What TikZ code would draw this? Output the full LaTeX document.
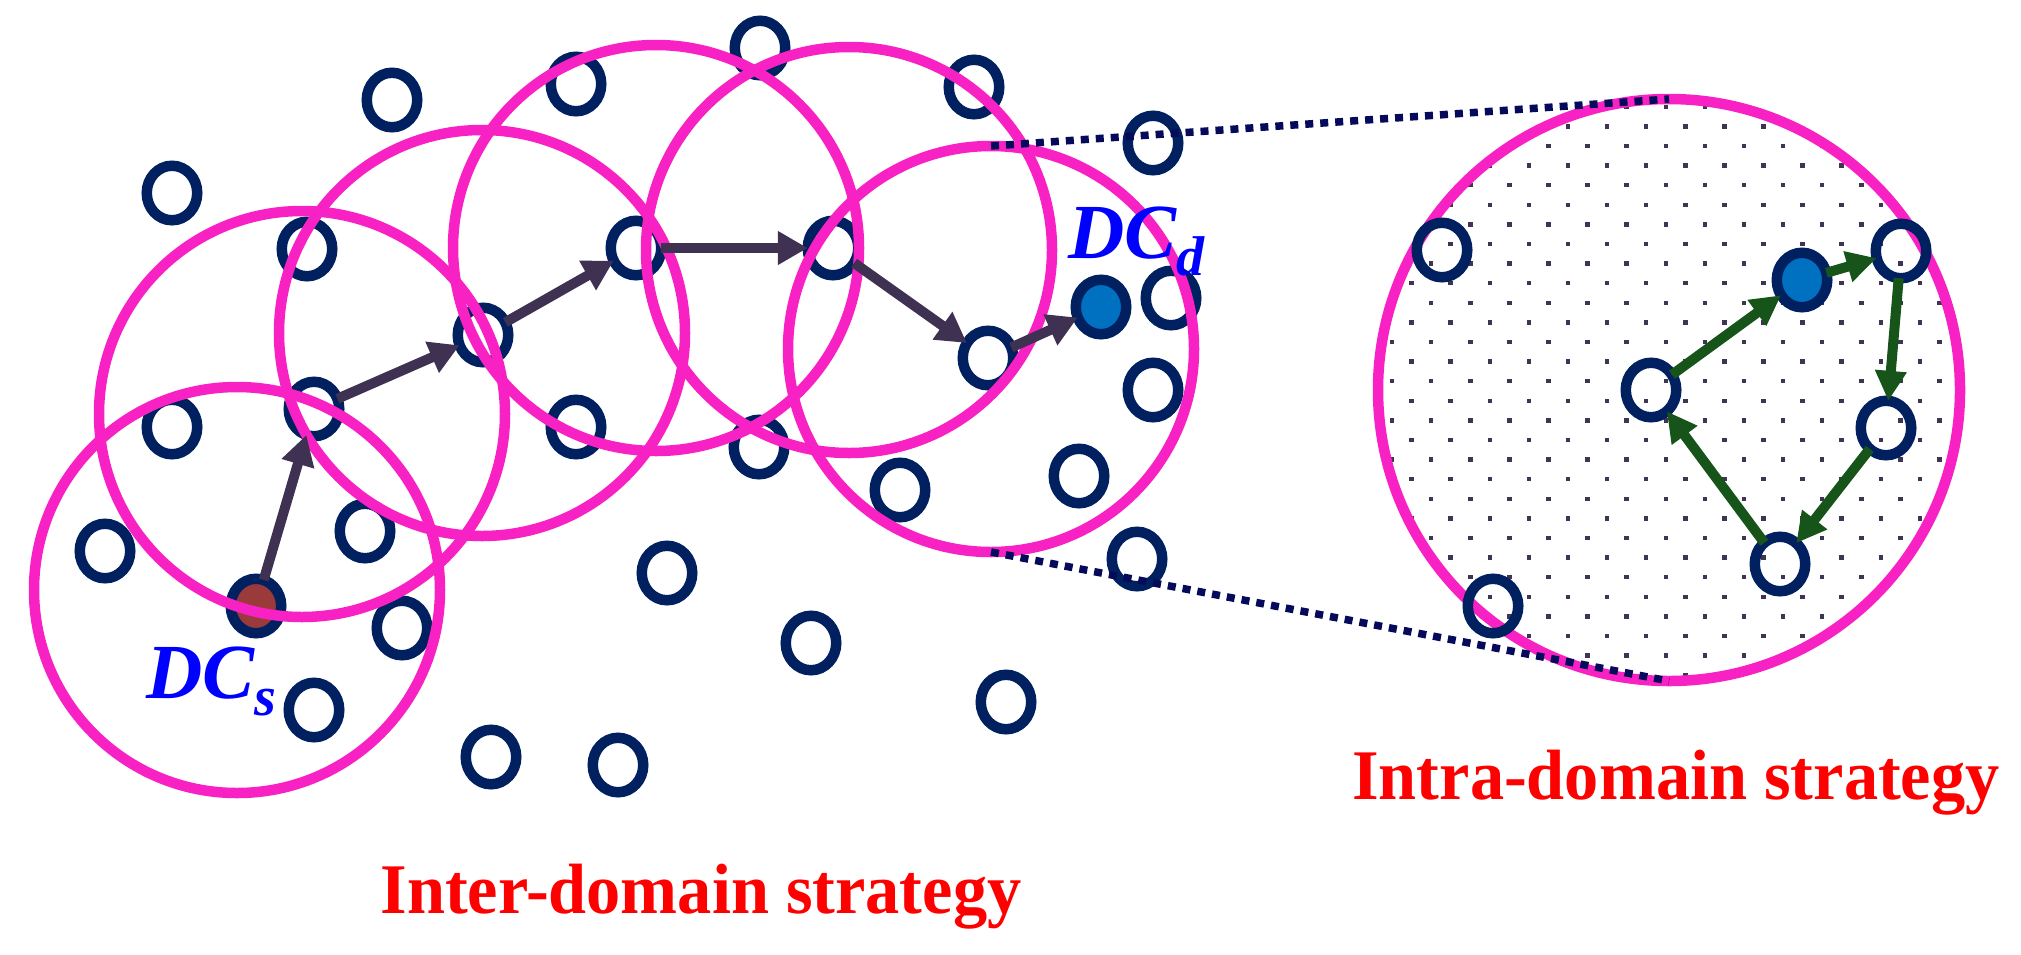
\documentclass[tikz,border=0pt]{standalone}
\usepackage{fontspec}
\usepackage{graphicx}
\setmainfont{Liberation Serif}
\usetikzlibrary{arrows.meta,shapes.geometric}
\definecolor{navy}{RGB}{0,32,96}
\definecolor{pinkc}{RGB}{248,34,196}
\definecolor{arrowc}{RGB}{63,49,81}
\definecolor{greenc}{RGB}{22,84,26}
\definecolor{linec}{RGB}{5,10,90}
\definecolor{dotc}{RGB}{64,52,84}
\definecolor{dcdfill}{RGB}{0,112,192}
\definecolor{dcsfill}{RGB}{155,58,58}
\begin{document}
\begin{tikzpicture}[x=0.5pt,y=-0.5pt,
  smallnode/.style={ellipse,draw=navy,line width=5.25pt,minimum width=25.25pt,minimum height=27.25pt,inner sep=0pt,outer sep=0pt},
  pinkring/.style={circle,draw=pinkc,line width=5.25pt,minimum size=203pt,inner sep=0pt,outer sep=0pt},
  bigring/.style={circle,draw=pinkc,line width=5.25pt,minimum size=291pt,inner sep=0pt,outer sep=0pt},
  interarrow/.style={draw=arrowc,line width=5pt,-{Triangle[length=15pt,width=16pt]}},
  intraarrow/.style={draw=greenc,line width=5pt,-{Triangle[length=15pt,width=15pt]}},
  zoomline/.style={draw=linec,line width=3.75pt,dash pattern=on 4pt off 3.5pt},
  titletext/.style={text=red,font=\fontsize{35.6}{36}\selectfont\bfseries,inner sep=0pt},
  dclabel/.style={text=blue,font=\fontsize{39}{39}\selectfont\bfseries\itshape,inner sep=0pt}]
\useasboundingbox (0,0) rectangle (2021,954);

% ---------- intra-domain dotted background ----------
\begin{scope}
  \clip (1669,390) circle[radius=287];
  \foreach \k in {-1,...,29}{
    \foreach \i in {-6,...,11}{
      \pgfmathsetmacro\dx{1568+39.1*\i-19.55*mod(\k,2)}
      \pgfmathsetmacro\dy{126.4+19.6*\k}
      \fill[dotc] (\dx-2.25,\dy-2.25) rectangle ++(4.5,4.5);
    }
  }
\end{scope}

% ---------- inter-domain small nodes ----------
\node[smallnode] (n1) at (172,193) {};
\node[smallnode] (n2) at (392,100) {};
\node[smallnode] (n3) at (576,84) {};
\node[smallnode] (n4) at (307,249) {};
\node[smallnode] (n5) at (483,335) {};
\node[smallnode] (n6) at (636,248) {};
\node[smallnode] (n7) at (172,427) {};
\node[smallnode] (n8) at (314,409) {};
\node[smallnode] (n9) at (576,427) {};
\node[smallnode] (n10) at (760,48) {};
\node[smallnode] (n11) at (974,87) {};
\node[smallnode] (n12) at (1153,143) {};
\node[smallnode] (n13) at (833,248) {};
\node[smallnode] (n14) at (988,358) {};
\node[smallnode] (n15) at (1171,298) {};
\node[smallnode] (n16) at (1153,390) {};
\node[smallnode] (n17) at (759,447) {};
\node[smallnode] (n18) at (1079,476) {};
\node[smallnode] (n19) at (900,490) {};
\node[smallnode] (n20) at (105,551) {};
\node[smallnode] (n21) at (365,531) {};
\node[smallnode] (n22) at (402,628) {};
\node[smallnode] (n23) at (314,710) {};
\node[smallnode] (n24) at (667,573) {};
\node[smallnode] (n25) at (811,643) {};
\node[smallnode] (n26) at (1006,702) {};
\node[smallnode] (n27) at (491,757) {};
\node[smallnode] (n28) at (618,765) {};
\node[smallnode] (n29) at (1137,559) {};
\node[smallnode,fill=dcsfill] (dcs) at (256,606) {};
\node[smallnode,fill=dcdfill] (dcd) at (1101,307) {};

% ---------- pink coverage circles ----------
\node[pinkring] (cA) at (237,590) {};
\node[pinkring] (cB) at (302,414) {};
\node[pinkring] (cC) at (482,333) {};
\node[pinkring] (cD) at (656,248) {};
\node[pinkring] (cE) at (849,250) {};
\node[pinkring] (cF) at (991,349) {};

% ---------- inter-domain route ----------
\draw[interarrow] (dcs) -- (n8);
\draw[interarrow] (n8) -- (n5);
\draw[interarrow] (n5) -- (n6);
\draw[interarrow] (n6) -- (n13);
\draw[interarrow] (n13) -- (n14);
\draw[interarrow] (n14) -- (dcd);

% ---------- intra-domain ----------
\node[bigring] (big) at (1669,390) {};
\node[smallnode] (r1) at (1442,250) {};
\node[smallnode,fill=dcdfill] (r2) at (1802,280) {};
\node[smallnode] (r3) at (1901,251) {};
\node[smallnode] (r4) at (1651,390) {};
\node[smallnode] (r5) at (1886,428) {};
\node[smallnode] (r6) at (1780,564) {};
\node[smallnode] (r7) at (1493,606) {};
\draw[intraarrow] (r4) -- (r2);
\draw[intraarrow] (r2) -- (r3);
\draw[intraarrow] (r3) -- (r5);
\draw[intraarrow] (r5) -- (r6);
\draw[intraarrow] (r6) -- (r4);

% ---------- magnifier lines ----------
\draw[zoomline] (cF.north) -- (big.north);
\draw[zoomline] (cF.south) -- (big.south);

% ---------- labels ----------
\node[dclabel,anchor=base west] (lbld) at (1068,258) {DC\raisebox{-8.5pt}{\fontsize{28}{28}\selectfont d}};
\node[dclabel,anchor=base west] (lbls) at (146,698) {DC\raisebox{-8.5pt}{\fontsize{28}{28}\selectfont s}};
\node[titletext,anchor=base] (inter) at (701,913) {\scalebox{0.96}[1]{Inter-domain strategy}};
\node[titletext,anchor=base] (intra) at (1676,799) {\scalebox{0.96}[1]{Intra-domain strategy}};
\end{tikzpicture}
\end{document}
